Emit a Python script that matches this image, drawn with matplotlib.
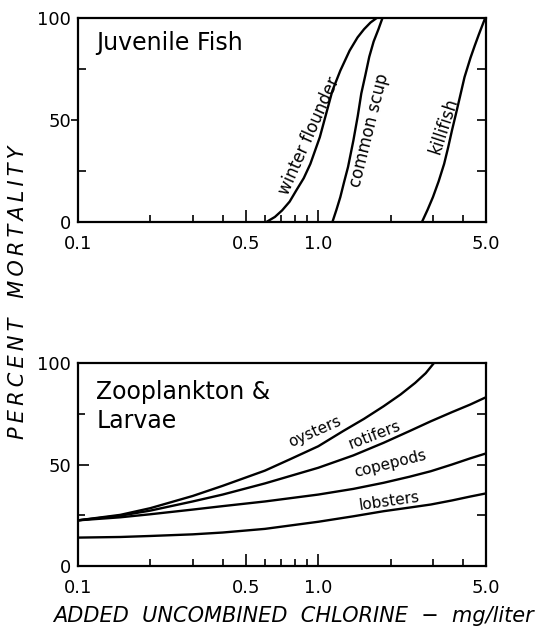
import matplotlib.pyplot as plt
from matplotlib.ticker import FixedLocator, NullFormatter

plt.rcParams['font.family'] = ['DejaVu Sans']

# Juvenile fish (percent mortality vs added chlorine, mg/liter)
flounder_x = [0.608, 0.66, 0.707, 0.76, 0.81, 0.87, 0.927, 1.015, 1.078, 1.145, 1.235, 1.35, 1.457, 1.55, 1.65, 1.75]
flounder_y = [0, 2.5, 5.7, 10, 15.5, 21.5, 28.5, 41.6, 53, 64.4, 74.2, 84, 90.5, 94.5, 97.8, 100]
scup_x = [1.145, 1.19, 1.235, 1.28, 1.33, 1.40, 1.46, 1.51, 1.57, 1.63, 1.70, 1.78, 1.85]
scup_y = [0, 6, 12.2, 19.5, 27, 40, 52, 63, 72, 81, 88.5, 94.5, 100]
killi_x = [2.70, 2.85, 3.0, 3.17, 3.34, 3.47, 3.6, 3.74, 3.88, 4.06, 4.3, 4.48, 4.66, 4.82, 4.95]
killi_y = [0, 6, 12.2, 20, 28.5, 36.5, 44.9, 53, 61, 71, 80.5, 86.5, 92, 96.5, 100]

# Zooplankton & larvae
zoo_x = [0.1, 0.15, 0.2, 0.3, 0.4, 0.6, 1.0, 1.4, 1.87, 2.4, 2.94, 3.6, 4.28, 5.0]
oyster_x = [0.1, 0.15, 0.2, 0.3, 0.4, 0.6, 0.76, 1.0, 1.27, 1.55, 1.87, 2.2, 2.53, 2.8, 3.03]
oyster_y = [22.5, 25.2, 28.5, 34.5, 39.5, 47, 52.5, 59, 66.5, 72.5, 78.7, 84.5, 90.2, 95, 100]
rotifer_y = [22.5, 24.8, 27.3, 31.8, 35.2, 40.7, 48.4, 54.5, 60.7, 66.5, 71.3, 75.8, 79.5, 83.2]
copepod_y = [22.5, 24.0, 25.5, 27.8, 29.5, 31.8, 35.2, 38.0, 41.0, 44.0, 46.7, 50.0, 53.0, 55.5]
lobster_y = [14.0, 14.3, 14.8, 15.6, 16.5, 18.3, 21.8, 24.5, 27.0, 28.8, 30.3, 32.3, 34.2, 35.8]

xticks = [0.1, 0.5, 1.0, 5.0]
xticklabels = ['0.1', '0.5', '1.0', '5.0']
xminor = [0.2, 0.3, 0.4, 0.6, 0.7, 0.8, 0.9, 2, 3, 4]

fig = plt.figure(figsize=(5.48, 6.32), dpi=100)
ax1 = fig.add_axes([0.1423, 0.6487, 0.745, 0.3228])
ax2 = fig.add_axes([0.1423, 0.1044, 0.745, 0.3212])


def style(ax, mid_dir, mid_len, side_len):
    ax.set_xscale('log')
    ax.set_xlim(0.1, 5.0)
    ax.set_ylim(0, 100)
    for s in ax.spines.values():
        s.set_linewidth(1.6)
    ax.xaxis.set_major_locator(FixedLocator(xticks))
    ax.set_xticklabels(xticklabels)
    ax.xaxis.set_minor_locator(FixedLocator(xminor))
    ax.xaxis.set_minor_formatter(NullFormatter())
    ax.tick_params(axis='x', which='major', direction='in', length=8.5, width=1.2,
                   labelsize=13, pad=9)
    ax.tick_params(axis='x', which='minor', direction='in', length=5, width=1.2)
    ax.set_yticks([0, 50, 100])
    ax.set_yticks([25, 75], minor=True)
    ax.tick_params(axis='y', which='major', length=0, labelsize=13, pad=5)
    ax.tick_params(axis='y', which='minor', direction='in', length=side_len, width=1.2)
    # the 50 tick on the left
    sec = ax.secondary_yaxis('left')
    sec.set_yticks([50])
    sec.tick_params(direction=mid_dir, length=mid_len, width=1.2, labelleft=False)
    sec.spines['left'].set_visible(False)
    # right side ticks, inward, no labels
    tw = ax.twinx()
    tw.set_ylim(0, 100)
    tw.set_yticks([25, 50, 75])
    tw.tick_params(axis='y', direction='in', length=6.5, width=1.2, labelright=False)
    for s in tw.spines.values():
        s.set_visible(False)


style(ax1, 'out', 5, 6)
style(ax2, 'in', 8, 5)

lw = 1.7
ax1.plot(flounder_x, flounder_y, color='black', lw=lw)
ax1.plot(scup_x, scup_y, color='black', lw=lw)
ax1.plot(killi_x, killi_y, color='black', lw=lw)
ax1.text(0.119, 87.7, 'Juvenile Fish', fontsize=17, va='center', ha='left')
ax1.text(0.914, 42, 'winter flounder', rotation=66, fontsize=12, ha='center', va='center')
ax1.text(1.63, 45, 'common scup', rotation=76, fontsize=12, ha='center', va='center')
ax1.text(3.34, 47.3, 'killifish', rotation=72, fontsize=12, ha='center', va='center')

ax2.plot(oyster_x, oyster_y, color='black', lw=lw)
ax2.plot(zoo_x, rotifer_y, color='black', lw=lw)
ax2.plot(zoo_x, copepod_y, color='black', lw=lw)
ax2.plot(zoo_x, lobster_y, color='black', lw=lw)
ax2.text(0.119, 78.7, 'Zooplankton &\nLarvae', fontsize=17, va='center', ha='left',
         linespacing=1.25)
ax2.text(0.97, 66, 'oysters', rotation=24, fontsize=11, ha='center', va='center')
ax2.text(1.72, 64.5, 'rotifers', rotation=21, fontsize=11, ha='center', va='center')
ax2.text(2.0, 50.3, 'copepods', rotation=14, fontsize=11, ha='center', va='center')
ax2.text(1.97, 31.8, 'lobsters', rotation=8, fontsize=11, ha='center', va='center')

ts = '\u2009'
fig.text(0.032, 0.538, ts.join('PERCENT') + '   ' + ts.join('MORTALITY'), rotation=90,
         style='italic', fontsize=15, ha='center', va='center')
fig.text(0.536, 0.025, 'ADDED  UNCOMBINED  CHLORINE  \u2212  mg/liter', style='italic',
         fontsize=15, ha='center', va='center')

plt.savefig('out.png', dpi=100)
